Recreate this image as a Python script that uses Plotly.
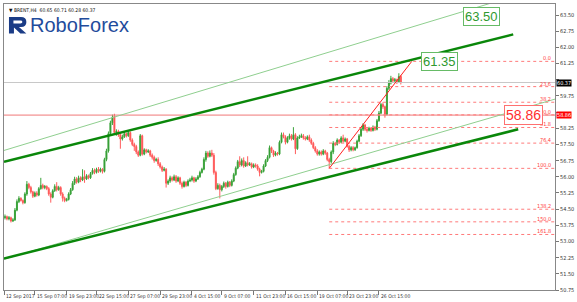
import plotly.graph_objects as go

# ---------------- data ----------------
bar_open = [
54.10, 54.15, 54.05, 54.10, 53.95, 54.00, 54.45, 54.85, 55.00, 54.90,
54.80, 55.20, 55.65, 55.50, 55.30, 55.10, 55.25, 55.15, 55.45, 55.60,
55.50, 55.55, 55.45, 55.20, 55.05, 55.35, 55.55, 55.40, 55.50, 55.20,
55.00, 54.90, 54.95, 55.20, 55.40, 55.70, 55.90, 55.75, 55.95, 55.85,
56.00, 55.90, 56.05, 55.95, 56.15, 56.30, 56.20, 56.35, 56.25, 56.35,
56.25, 56.80, 57.20, 58.00, 58.50, 58.80, 58.05, 58.10, 57.95, 57.75,
57.85, 58.00, 57.90, 58.05, 57.70, 57.50, 57.40, 57.15, 57.00, 57.90,
57.05, 57.25, 57.15, 57.20, 57.00, 56.90, 56.75, 56.80, 56.60, 56.45,
56.30, 56.35, 55.70, 55.80, 55.95, 55.85, 56.00, 55.80, 55.95, 55.70,
55.55, 55.75, 55.60, 55.80, 55.85, 55.95, 55.80, 55.90, 56.00, 56.20,
56.35, 56.80, 57.10, 56.95, 57.10, 57.00, 56.20, 55.45, 55.60, 55.40,
55.55, 55.70, 55.55, 55.75, 55.60, 55.80, 56.10, 56.40, 56.70, 56.55,
56.75, 56.50, 56.65, 56.55, 56.60, 56.45, 56.55, 56.50, 56.35, 56.20,
56.25, 56.50, 56.75, 56.90, 57.35, 57.20, 57.00, 57.10, 57.05, 57.60,
57.95, 57.85, 57.60, 57.80, 57.90, 57.75, 57.95, 57.30, 57.80, 57.85,
57.90, 57.80, 57.75, 57.85, 57.70, 57.55, 57.35, 57.20, 57.05, 57.15,
57.05, 57.20, 57.10, 56.80, 56.70, 57.15, 57.55, 57.50, 57.70, 57.60,
57.80, 57.65, 57.75, 57.40, 57.25, 57.35, 57.25, 57.35, 57.65, 57.90,
58.20, 58.40, 58.20, 58.15, 58.25, 58.15, 58.30, 58.20, 58.60, 58.95,
59.35, 59.25, 58.90, 60.10, 60.35, 60.55, 60.45, 60.50, 60.40, 60.65,
]
bar_close = [
54.15, 54.05, 54.10, 53.95, 54.00, 54.45, 54.85, 55.00, 54.90, 54.80,
55.20, 55.65, 55.50, 55.30, 55.10, 55.25, 55.15, 55.45, 55.60, 55.50,
55.55, 55.45, 55.20, 55.05, 55.35, 55.55, 55.40, 55.50, 55.20, 55.00,
54.90, 54.95, 55.20, 55.40, 55.70, 55.90, 55.75, 55.95, 55.85, 56.00,
55.90, 56.05, 55.95, 56.15, 56.30, 56.20, 56.35, 56.25, 56.35, 56.25,
56.80, 57.20, 58.00, 58.50, 58.75, 58.05, 58.10, 57.95, 57.75, 57.85,
58.00, 57.90, 58.05, 57.70, 57.50, 57.40, 57.15, 57.00, 57.90, 57.05,
57.25, 57.15, 57.20, 57.00, 56.90, 56.75, 56.80, 56.60, 56.45, 56.30,
56.35, 55.70, 55.80, 55.95, 55.85, 56.00, 55.80, 55.95, 55.70, 55.55,
55.75, 55.60, 55.80, 55.85, 55.95, 55.80, 55.90, 56.00, 56.20, 56.35,
56.80, 57.10, 56.95, 57.10, 57.00, 56.20, 55.45, 55.60, 55.40, 55.55,
55.70, 55.55, 55.75, 55.60, 55.80, 56.10, 56.40, 56.70, 56.55, 56.75,
56.50, 56.65, 56.55, 56.60, 56.45, 56.55, 56.50, 56.35, 56.20, 56.25,
56.50, 56.75, 56.90, 57.35, 57.20, 57.00, 57.10, 57.05, 57.60, 57.95,
57.85, 57.60, 57.80, 57.90, 57.75, 57.95, 57.30, 57.80, 57.85, 57.90,
57.80, 57.75, 57.85, 57.70, 57.55, 57.35, 57.20, 57.05, 57.15, 57.05,
57.20, 57.10, 56.80, 56.70, 57.15, 57.55, 57.50, 57.70, 57.60, 57.80,
57.65, 57.75, 57.40, 57.25, 57.35, 57.25, 57.35, 57.65, 57.90, 58.20,
58.40, 58.20, 58.15, 58.25, 58.15, 58.30, 58.20, 58.60, 58.95, 59.35,
59.25, 58.90, 60.10, 60.35, 60.55, 60.45, 60.50, 60.40, 60.65, 60.37,
]
bar_high = [
54.25, 54.20, 54.18, 54.15, 54.08, 54.55, 54.95, 55.10, 55.05, 54.95,
55.28, 55.80, 55.72, 55.58, 55.35, 55.32, 55.33, 55.52, 55.95, 55.68,
55.62, 55.60, 55.52, 55.28, 55.42, 55.65, 55.75, 55.58, 55.56, 55.28,
55.08, 55.02, 55.28, 55.48, 55.80, 56.00, 55.98, 56.05, 56.02, 56.35,
56.30, 56.12, 56.10, 56.22, 56.40, 56.38, 56.42, 56.45, 56.42, 56.40,
56.88, 57.30, 58.10, 58.60, 58.88, 58.92, 58.20, 58.18, 58.02, 57.95,
58.08, 58.05, 58.15, 58.10, 57.78, 57.58, 57.48, 57.22, 57.98, 57.95,
57.32, 57.30, 57.28, 57.25, 57.08, 56.98, 56.88, 56.90, 56.68, 56.52,
56.45, 56.40, 55.88, 56.05, 56.02, 56.10, 56.08, 56.02, 56.00, 55.78,
55.82, 55.80, 55.88, 55.95, 56.05, 56.00, 55.98, 56.08, 56.28, 56.42,
56.90, 57.20, 57.18, 57.22, 57.25, 57.10, 56.28, 55.70, 55.68, 55.62,
55.78, 55.76, 55.82, 55.80, 55.88, 56.18, 56.48, 56.78, 56.95, 56.85,
56.90, 56.72, 56.95, 56.68, 56.66, 56.62, 56.62, 56.58, 56.42, 56.32,
56.58, 56.82, 57.00, 57.45, 57.40, 57.25, 57.18, 57.15, 57.68, 58.05,
58.05, 57.92, 57.88, 58.00, 57.98, 58.30, 58.02, 57.88, 57.95, 58.00,
57.98, 57.88, 57.92, 57.95, 57.78, 57.62, 57.42, 57.28, 57.22, 57.22,
57.28, 57.25, 57.15, 56.88, 57.22, 57.65, 57.62, 57.78, 57.75, 57.88,
57.95, 57.82, 57.80, 57.48, 57.42, 57.42, 57.40, 57.72, 57.98, 58.28,
58.48, 58.45, 58.28, 58.32, 58.30, 58.38, 58.36, 58.68, 59.05, 59.42,
59.45, 59.30, 60.20, 60.48, 60.68, 60.62, 60.58, 60.55, 60.80, 60.71,
]
bar_low = [
54.02, 53.98, 53.98, 53.88, 53.90, 53.95, 54.40, 54.78, 54.85, 54.72,
54.75, 55.12, 55.42, 55.22, 55.02, 55.05, 55.08, 55.10, 55.40, 55.42,
55.42, 55.38, 55.12, 54.80, 55.00, 55.30, 55.32, 55.35, 55.12, 54.85,
54.82, 54.85, 54.90, 55.15, 55.35, 55.62, 55.68, 55.70, 55.75, 55.80,
55.72, 55.85, 55.88, 55.90, 56.10, 56.12, 56.15, 56.18, 56.20, 56.15,
56.20, 56.72, 57.12, 57.90, 58.40, 57.95, 57.90, 57.85, 57.30, 57.68,
57.80, 57.82, 57.85, 57.62, 57.42, 57.20, 57.05, 56.92, 56.95, 56.98,
57.00, 57.08, 57.10, 56.92, 56.80, 56.65, 56.70, 56.50, 56.38, 56.22,
56.25, 55.50, 55.62, 55.72, 55.78, 55.80, 55.72, 55.75, 55.62, 55.45,
55.50, 55.52, 55.55, 55.75, 55.78, 55.72, 55.75, 55.85, 55.95, 56.15,
56.30, 56.70, 56.88, 56.90, 56.92, 56.10, 55.38, 55.40, 55.00, 55.32,
55.48, 55.45, 55.50, 55.52, 55.55, 55.75, 56.05, 56.35, 56.45, 56.48,
56.42, 56.45, 56.48, 56.50, 56.38, 56.40, 56.42, 56.28, 56.02, 56.15,
56.20, 56.45, 56.68, 56.85, 57.10, 56.92, 56.95, 56.98, 57.00, 57.55,
57.78, 57.50, 57.55, 57.72, 57.68, 57.70, 57.05, 57.25, 57.75, 57.80,
57.72, 57.68, 57.70, 57.62, 57.48, 57.28, 57.12, 56.98, 56.98, 56.98,
57.00, 57.02, 56.72, 56.39, 56.62, 57.05, 57.42, 57.45, 57.52, 57.55,
57.58, 57.60, 57.35, 57.15, 57.18, 57.18, 57.20, 57.30, 57.60, 57.85,
58.12, 58.12, 58.05, 58.10, 58.08, 58.10, 58.12, 58.15, 58.55, 58.90,
59.15, 58.74, 58.85, 60.02, 60.28, 60.35, 60.38, 60.30, 60.35, 60.28,
]
bar_index = list(range(len(bar_close)))

price_ticks = [50.75, 51.50, 52.25, 53.00, 53.75, 54.50, 55.25, 56.00, 56.75,
               57.50, 58.25, 59.00, 59.75, 60.50, 61.25, 62.00, 62.75, 63.50]
time_labels = ["12 Sep 2017", "15 Sep 07:00", "19 Sep 23:00", "22 Sep 15:00",
               "27 Sep 07:00", "29 Sep 23:00", "4 Oct 15:00", "9 Oct 07:00",
               "11 Oct 23:00", "16 Oct 15:00", "19 Oct 07:00", "23 Oct 23:00",
               "26 Oct 15:00"]
time_label_bars = [-0.4, 15, 31, 46, 62, 78, 94, 109, 125, 141, 157, 172, 188]

# channel / trend lines as (bar, price) endpoints
thick_upper_bar, thick_upper_price = [-0.5, 255.5], [56.70, 62.60]
thick_lower_bar, thick_lower_price = [-0.5, 258.0], [52.21, 58.20]
thin_upper_bar, thin_upper_price = [-0.5, 250.0], [57.22, 64.21]
thin_lower_bar, thin_lower_price = [-0.5, 276.5], [52.18, 59.60]
trend_bar, trend_price = [163, 204.5], [56.39, 61.35]

fib_levels = [0.0, 23.6, 38.2, 50.0, 61.8, 76.4, 100.0, 138.2, 150.0, 161.8]
fib_low, fib_high = 56.39, 61.35
fib_start_bar = 163
support_level = 58.86
last_price = 60.37
header = "▼ BRENT,H4  60.65 60.71 60.28 60.37"

X_MIN, X_MAX = -0.5, 276.5
Y_MIN, Y_MAX = 50.75, 64.01
SMALL_FONT = "Liberation Sans Narrow, DejaVu Sans Condensed, Liberation Sans"

fig = go.Figure()

# horizontal lines
fig.add_trace(go.Scatter(x=[X_MIN, X_MAX], y=[last_price, last_price], mode="lines",
                         line=dict(color="#c8c8c8", width=1), hoverinfo="skip", showlegend=False))
fig.add_trace(go.Scatter(x=[X_MIN, X_MAX], y=[support_level, support_level], mode="lines",
                         line=dict(color="#f07878", width=1), hoverinfo="skip", showlegend=False))

# fib levels
fib_prices = [fib_high - lv / 100.0 * (fib_high - fib_low) for lv in fib_levels]
for lv, fp in zip(fib_levels, fib_prices):
    fig.add_trace(go.Scatter(x=[fib_start_bar, X_MAX], y=[fp, fp], mode="lines",
                             line=dict(color="#ff7a7a", width=1, dash="dot"),
                             hoverinfo="skip", showlegend=False))

# channels
for bx, py, col, w in [(thin_upper_bar, thin_upper_price, "#8fcf8f", 1),
                       (thin_lower_bar, thin_lower_price, "#8fcf8f", 1),
                       (thick_upper_bar, thick_upper_price, "#0a870a", 2.5),
                       (thick_lower_bar, thick_lower_price, "#0a870a", 2.5)]:
    fig.add_trace(go.Scatter(x=bx, y=py, mode="lines", line=dict(color=col, width=w),
                             hoverinfo="skip", showlegend=False))

# candles
fig.add_trace(go.Candlestick(
    x=bar_index, open=bar_open, high=bar_high, low=bar_low, close=bar_close,
    increasing=dict(line=dict(color="#3aa33a", width=1), fillcolor="#1f8a1f"),
    decreasing=dict(line=dict(color="#ff5c5c", width=1), fillcolor="#ff2a2a"),
    whiskerwidth=0, showlegend=False))

# trend line
fig.add_trace(go.Scatter(x=trend_bar, y=trend_price, mode="lines",
                         line=dict(color="#ff2020", width=1), hoverinfo="skip", showlegend=False))

anns = []
# fib labels
for lv, fp in zip(fib_levels, fib_prices):
    anns.append(dict(x=0.997, xref="paper", y=fp, yref="y", text=f"{lv:.1f}",
                     showarrow=False, xanchor="right", yanchor="bottom", yshift=-2,
                     font=dict(size=5.5, color="#ff4040", family=SMALL_FONT)))
# x labels
for b, t in zip(time_label_bars, time_labels):
    anns.append(dict(x=b, xref="x", y=0, yref="paper", text=t, showarrow=False,
                     xanchor="left", yanchor="top", xshift=0, yshift=-1,
                     font=dict(size=5, color="#333333", family=SMALL_FONT)))
# callouts
anns.append(dict(x=218.5, y=61.33, text="61.35", showarrow=False, bgcolor="white",
                 bordercolor="#66bb66", borderwidth=1, borderpad=1,
                 font=dict(size=13, color="#2f9a2f")))
anns.append(dict(x=239.5, y=63.43, text="63.50", showarrow=False, bgcolor="white",
                 bordercolor="#66bb66", borderwidth=1, borderpad=1,
                 font=dict(size=13, color="#2f9a2f")))
anns.append(dict(x=260.5, y=support_level, text="58.86", showarrow=False, bgcolor="white",
                 bordercolor="#ff7070", borderwidth=1, borderpad=1,
                 font=dict(size=14, color="#ff3030")))
# axis price boxes (cover the axis labels beneath them, as in the terminal)
anns.append(dict(x=1, xref="paper", y=last_price, text="60.37", showarrow=False,
                 xanchor="left", bgcolor="black", borderpad=0, xshift=1,
                 font=dict(size=5.5, color="white", family=SMALL_FONT)))
anns.append(dict(x=1, xref="paper", y=support_level, text="58.86", showarrow=False,
                 xanchor="left", bgcolor="#ff0000", borderpad=0, xshift=1,
                 font=dict(size=5.5, color="white", family=SMALL_FONT)))
# header
anns.append(dict(x=0.005, xref="paper", y=1, yref="paper", text=header, showarrow=False,
                 xanchor="left", yanchor="top", yshift=-1,
                 font=dict(size=5, color="#111111", family=SMALL_FONT)))
# logo text
anns.append(dict(x=(27 - 3) / 554, xref="paper", y=1 - (24 - 3) / 287, yref="paper",
                 text="RoboForex", showarrow=False, xanchor="left", yanchor="middle",
                 font=dict(size=20, color="#1f4c9c", family="Liberation Sans")))


def px(xp, yp):
    return f"{(xp - 3) / 554:.5f},{1 - (yp - 3) / 287:.5f}"


logo_path = ("M " + px(8, 16) + " L " + px(20, 16) + " Q " + px(25.5, 16) + " " + px(25.5, 21)
             + " Q " + px(25.5, 26) + " " + px(20, 26) + " L " + px(18, 26) + " L " + px(25.5, 32.5)
             + " L " + px(19.5, 32.5) + " L " + px(13, 26.5) + " L " + px(13, 32.5)
             + " L " + px(8, 32.5) + " Z")
hole_path = ("M " + px(12.5, 19.5) + " L " + px(19.5, 19.5) + " Q " + px(21.5, 19.5) + " "
             + px(21.5, 21) + " Q " + px(21.5, 22.5) + " " + px(19.5, 22.5) + " L "
             + px(12.5, 22.5) + " Z")
shapes = [
    dict(type="path", xref="paper", yref="paper", path=logo_path, fillcolor="#1b3c86",
         line=dict(width=0), layer="above"),
    dict(type="path", xref="paper", yref="paper", path=hole_path, fillcolor="white",
         line=dict(width=0), layer="above"),
]

# axis labels hidden under the two price boxes
covered = [60.50, 59.00]
price_ticktext = ["" if p in covered else f"{p:.2f}" for p in price_ticks]

fig.update_layout(
    width=577, height=302,
    margin=dict(l=3, r=20, t=3, b=12),
    paper_bgcolor="white", plot_bgcolor="white",
    font=dict(family="Liberation Sans", size=6, color="#333333"),
    annotations=anns, shapes=shapes, showlegend=False,
    xaxis=dict(range=[X_MIN, X_MAX], tickvals=time_label_bars, showticklabels=False,
               ticks="outside", ticklen=4, tickcolor="#777777", showgrid=False,
               zeroline=False, showline=True, linecolor="#888888", mirror=True,
               rangeslider=dict(visible=False), fixedrange=True),
    yaxis=dict(range=[Y_MIN, Y_MAX], side="right", tickvals=price_ticks,
               ticktext=price_ticktext, ticks="outside", ticklen=3,
               tickcolor="#777777", tickfont=dict(size=5.5, color="#333333", family=SMALL_FONT),
               showgrid=False, zeroline=False, showline=True, linecolor="#888888",
               mirror=True, fixedrange=True),
)

fig.write_html("out.html")
